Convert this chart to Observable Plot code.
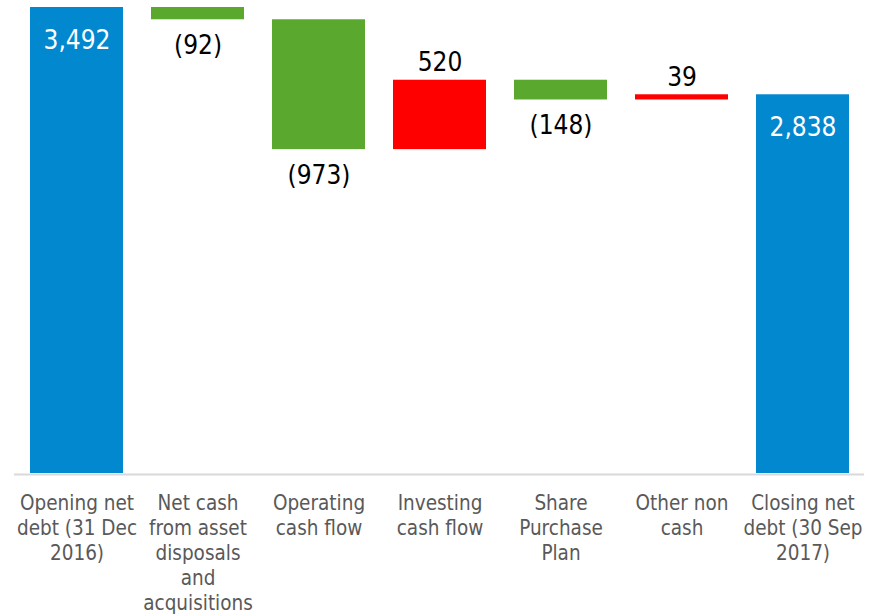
<!DOCTYPE html>
<html>
<head>
<meta charset="utf-8">
<script src="https://cdn.jsdelivr.net/npm/d3@7"></script>
<script src="https://cdn.jsdelivr.net/npm/@observablehq/plot@0.6"></script>
<style>
  html, body { margin: 0; padding: 0; background: #fff; }
  #chart svg { display: block; font-family: "DejaVu Sans Condensed", "DejaVu Sans", sans-serif; }
</style>
</head>
<body>
<div id="chart"></div>
<script>
const categories = [
  "Opening net debt (31 Dec 2016)",
  "Net cash from asset disposals and acquisitions",
  "Operating cash flow",
  "Investing cash flow",
  "Share Purchase Plan",
  "Other non cash",
  "Closing net debt (30 Sep 2017)"
];
const tickLabels = [
  "Opening net\ndebt (31 Dec\n2016)",
  "Net cash\nfrom asset\ndisposals\nand\nacquisitions",
  "Operating\ncash flow",
  "Investing\ncash flow",
  "Share\nPurchase\nPlan",
  "Other non\ncash",
  "Closing net\ndebt (30 Sep\n2017)"
];
const values = [3492, -92, -973, 520, -148, 39, 2838];
const kinds = ["total", "change", "change", "change", "change", "change", "total"];
const valueLabels = ["3,492", "(92)", "(973)", "520", "(148)", "39", "2,838"];

const colors = { total: "#0288CF", down: "#5AA82E", up: "#FF0000" };

// build waterfall table
let running = 0;
const data = categories.map((c, i) => {
  let y1, y2;
  if (kinds[i] === "total") { y1 = 0; y2 = values[i]; running = values[i]; }
  else { y1 = running; y2 = running + values[i]; running = y2; }
  const type = kinds[i] === "total" ? "total" : (values[i] < 0 ? "down" : "up");
  return { cat: c, y1, y2, lo: Math.min(y1, y2), hi: Math.max(y1, y2), type, label: valueLabels[i] };
});
const labelMap = new Map(categories.map((c, i) => [c, tickLabels[i]]));

const chart = Plot.plot({
  width: 878,
  height: 616,
  marginTop: 7,
  marginBottom: 143,
  marginLeft: 14,
  marginRight: 14,
  x: { domain: categories, paddingInner: 0.234, paddingOuter: 0.117, axis: null },
  y: { domain: [0, 3492], axis: null },
  marks: [
    Plot.barY(data, { x: "cat", y1: "lo", y2: "hi", fill: d => colors[d.type], insetTop: 0, insetBottom: 0 }),
    Plot.ruleY([0], { stroke: "#D9D9D9", strokeWidth: 2, dy: 1 }),
    Plot.axisX({ tickSize: 0, tickPadding: 19, tickFormat: d => labelMap.get(d), fontSize: 20.5, lineHeight: 1.22, fill: "#595959", label: null }),
    Plot.text(data.filter(d => d.type === "total"), { x: "cat", y: "hi", text: "label", fill: "white", fontSize: 26, lineAnchor: "bottom", dy: 41 }),
    Plot.text(data.filter(d => d.type === "up"), { x: "cat", y: "hi", text: "label", fill: "black", fontSize: 26, lineAnchor: "bottom", dy: -9 }),
    Plot.text(data.filter(d => d.type === "down"), { x: "cat", y: "lo", text: "label", fill: "black", fontSize: 26, lineAnchor: "bottom", dy: 34 })
  ]
});
document.getElementById("chart").appendChild(chart);
</script>
</body>
</html>
